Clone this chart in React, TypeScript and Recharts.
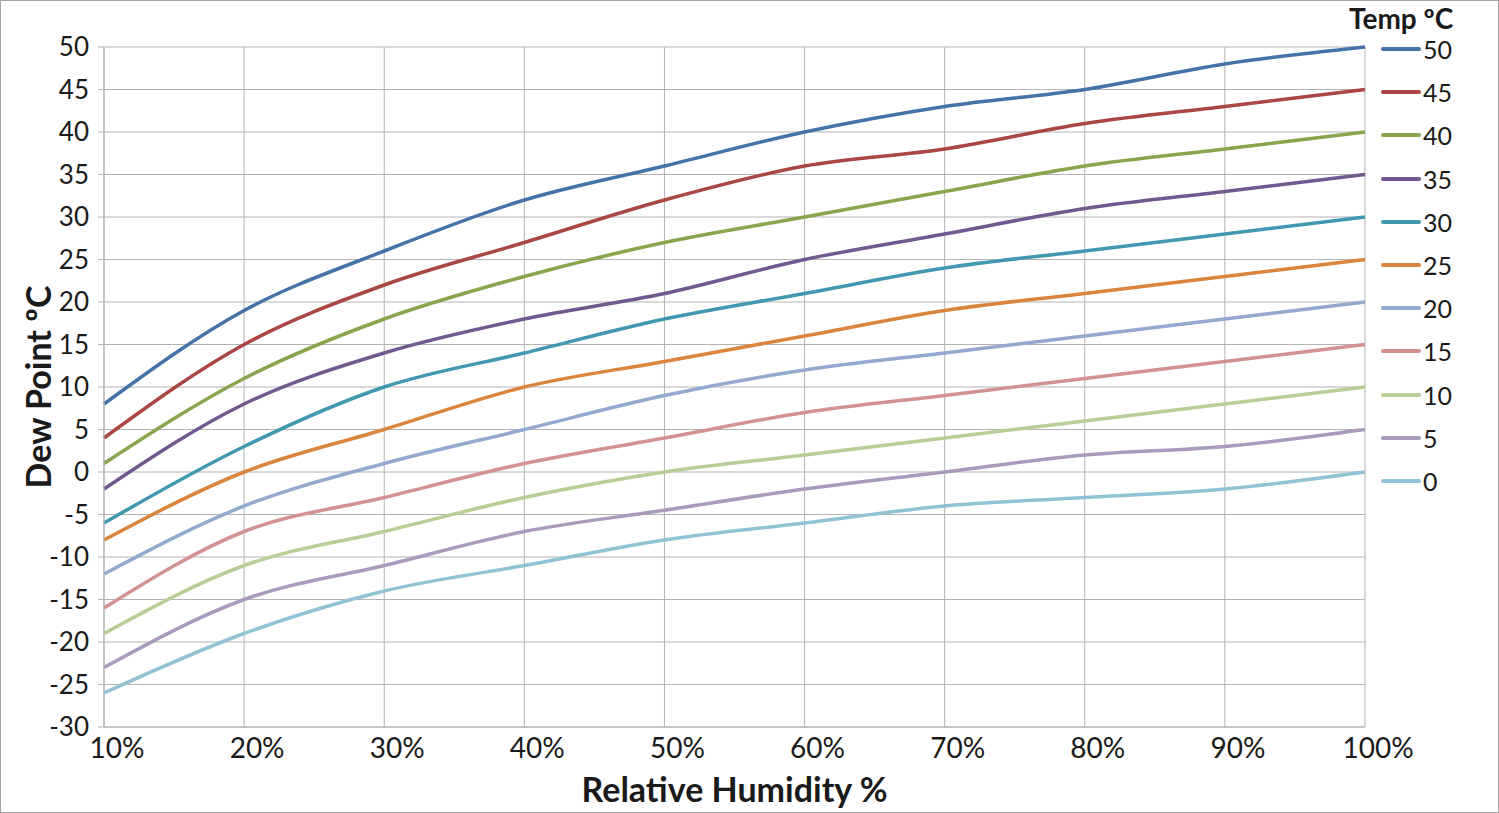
import { LineChart, Line, XAxis, YAxis, CartesianGrid, Legend } from "recharts";

const FONT = "Lato, 'Open Sans', sans-serif";

// relative humidity categories
const humidity = ["10%", "20%", "30%", "40%", "50%", "60%", "70%", "80%", "90%", "100%"];

// dew point (ºC) for each air temperature
const dew50 = [8, 19, 26, 32, 36, 40, 43, 45, 48, 50];
const dew45 = [4, 15, 22, 27, 32, 36, 38, 41, 43, 45];
const dew40 = [1, 11, 18, 23, 27, 30, 33, 36, 38, 40];
const dew35 = [-2, 8, 14, 18, 21, 25, 28, 31, 33, 35];
const dew30 = [-6, 3, 10, 14, 18, 21, 24, 26, 28, 30];
const dew25 = [-8, 0, 5, 10, 13, 16, 19, 21, 23, 25];
const dew20 = [-12, -4, 1, 5, 9, 12, 14, 16, 18, 20];
const dew15 = [-16, -7, -3, 1, 4, 7, 9, 11, 13, 15];
const dew10 = [-19, -11, -7, -3, 0, 2, 4, 6, 8, 10];
const dew5 = [-23, -15, -11, -7, -4.5, -2, 0, 2, 3, 5];
const dew0 = [-26, -19, -14, -11, -8, -6, -4, -3, -2, 0];

const temps = ["50", "45", "40", "35", "30", "25", "20", "15", "10", "5", "0"];
const seriesValues = [dew50, dew45, dew40, dew35, dew30, dew25, dew20, dew15, dew10, dew5, dew0];
const colors = [
    "#4572A7", "#AA4643", "#89A54E", "#71588F", "#4198AF", "#DB843D",
    "#93A9CF", "#D19392", "#B9CD96", "#A99BBD", "#91C3D5",
];

const yTicks = [-30, -25, -20, -15, -10, -5, 0, 5, 10, 15, 20, 25, 30, 35, 40, 45, 50];

const data = humidity.map((rh, i) => {
    const row: Record<string, string | number> = { rh };
    temps.forEach((t, s) => {
        row["t" + t] = seriesValues[s][i];
    });
    return row;
});

const GRID = "#b3b3b3";
const TEXT = "#1a1a1a";

function XTick(props: any) {
    const { x, y, payload } = props;
    return (
        <text x={x + 13} y={y} dy="0.71em" textAnchor="middle" fill={TEXT} fontSize={28} fontFamily={FONT}>
            {payload.value}
        </text>
    );
}

function TempLegend(props: any) {
    const items = [...(props.payload || [])].sort((a: any, b: any) => Number(b.value) - Number(a.value));
    return (
        <div style={{ position: "relative", width: 150, height: 500, fontFamily: FONT, color: TEXT }}>
            <div style={{ position: "absolute", left: 9, top: 4, fontWeight: 700, fontSize: 28, lineHeight: "28px", whiteSpace: "nowrap" }}>
                Temp ºC
            </div>
            {items.map((p: any, i: number) => (
                <div
                    key={p.value}
                    style={{ position: "absolute", left: 41, top: 49 - 13 + i * 43.2, height: 26, display: "flex", alignItems: "center" }}
                >
                    <span style={{ width: 40, height: 4, background: p.color, borderRadius: 2, display: "inline-block" }} />
                    <span style={{ marginLeft: 2, fontSize: 25, lineHeight: "26px" }}>{p.value}</span>
                </div>
            ))}
        </div>
    );
}

export default function App() {
    return (
        <div style={{ position: "absolute", left: 0, top: 0, width: 1499, height: 813, background: "#fff" }}>
            <LineChart width={1499} height={813} data={data} margin={{ top: 47, right: 134, bottom: 0, left: 0 }}>
                <CartesianGrid stroke={GRID} strokeWidth={1} />
                <XAxis
                    dataKey="rh"
                    height={86}
                    tickSize={0}
                    tickMargin={11}
                    interval={0}
                    axisLine={{ stroke: GRID }}
                    tickLine={false}
                    tick={<XTick />}
                    label={(p: any) => {
                        const vb = p.viewBox;
                        return (
                            <text
                                x={vb.x + vb.width / 2}
                                y={802}
                                textAnchor="middle"
                                fontFamily={FONT}
                                fontWeight={700}
                                fontSize={34}
                                fill={TEXT}
                            >
                                Relative Humidity %
                            </text>
                        );
                    }}
                />
                <YAxis
                    width={104}
                    domain={[-30, 50]}
                    ticks={yTicks}
                    interval={0}
                    tickSize={6}
                    tickMargin={9}
                    axisLine={{ stroke: GRID }}
                    tickLine={{ stroke: GRID }}
                    tick={{ fill: TEXT, fontSize: 26, fontFamily: FONT }}
                    label={(p: any) => {
                        const vb = p.viewBox;
                        const cy = vb.y + vb.height / 2;
                        return (
                            <text
                                x={37}
                                y={cy}
                                transform={`rotate(-90 37 ${cy})`}
                                textAnchor="middle"
                                dominantBaseline="central"
                                fontFamily={FONT}
                                fontWeight={700}
                                fontSize={34}
                                fill={TEXT}
                            >
                                Dew Point ºC
                            </text>
                        );
                    }}
                />
                <Legend
                    layout="vertical"
                    align="center"
                    verticalAlign="middle"
                    wrapperStyle={{ left: 1340, top: 0, width: 150 }}
                    content={<TempLegend />}
                />
                {temps.map((t, s) => (
                    <Line
                        key={t}
                        type="monotone"
                        dataKey={"t" + t}
                        name={t}
                        stroke={colors[s]}
                        strokeWidth={3.5}
                        dot={false}
                        isAnimationActive={false}
                    />
                ))}
            </LineChart>
            <div
                style={{
                    position: "absolute",
                    left: 0,
                    top: 0,
                    width: 1499,
                    height: 813,
                    boxSizing: "border-box",
                    border: "1px solid #a6a6a6",
                    pointerEvents: "none",
                }}
            />
        </div>
    );
}
